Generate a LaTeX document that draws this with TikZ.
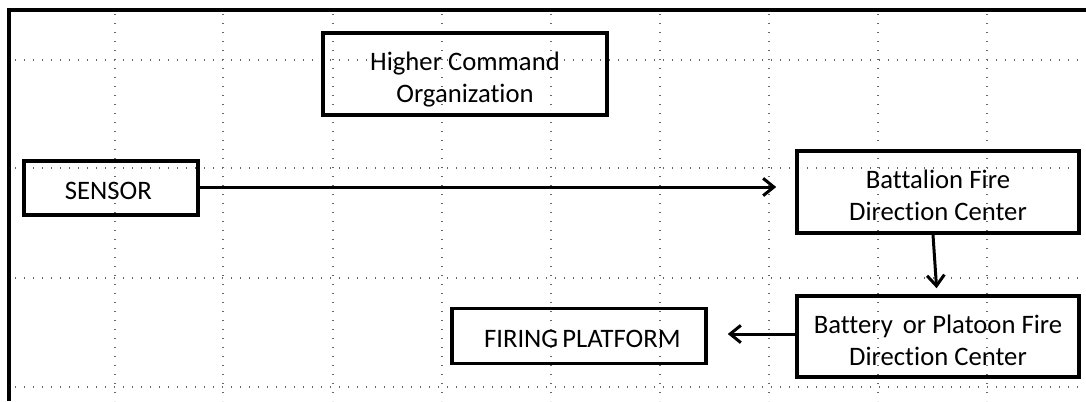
\documentclass[tikz,border=0pt]{standalone}
\usepackage{fontspec}
\setmainfont{Carlito}[Ligatures={NoCommon}]
\usetikzlibrary{arrows.meta}
\def\PX{0.75pt}
\newcommand\liftA[1]{\rule{0pt}{#1}}
\begin{document}
\begin{tikzpicture}[x=0.75pt,y=-0.75pt,
  gridline/.style={draw=black!60,line width=1.2*\PX,dash pattern=on 1.2*\PX off 7.8*\PX},
  box/.style={draw=black,line width=3.6*\PX,rectangle,align=center,inner sep=0pt,
    font=\fontsize{20}{24}\selectfont,text=black},
  conn/.style={draw=black,line width=3*\PX,-{Straight Barb[length=8pt,width=13pt,line width=3*\PX]}}]
\useasboundingbox (0,0) rectangle (1086,401);
% grid
\foreach \x in {115,223,333,442,551,660,769,878,987}
  \draw[gridline] (\x,14) -- (\x,401);
\foreach \y in {60,168,278,387}
  \draw[gridline] (15,\y) -- (1086,\y);
% frame
\draw[line width=4*\PX] (8.5,401) -- (8.5,9.5) -- (1086,9.5);
% nodes
\node[box,minimum width=284*\PX,minimum height=82*\PX] (hco) at (465,74) {\liftA{22pt}Higher Command\\Organization};
\node[box,minimum width=174*\PX,minimum height=54*\PX] (sen) at (111,188) {\liftA{18pt}SENSOR\hspace*{4pt}};
\node[box,minimum width=282*\PX,minimum height=82*\PX] (bfdc) at (938,192) {\liftA{19pt}Battalion\hspace{0.2pt} Fire\\Direction Center};
\node[box,minimum width=282*\PX,minimum height=81*\PX] (bpfdc) at (938,336.5) {\liftA{19pt}Battery\hspace{3pt} or Platoon Fire\\Direction Center};
\node[box,minimum width=254*\PX,minimum height=55*\PX] (fp) at (579,336) {\liftA{18pt}\hspace*{5pt}FIRING\hspace{-1.5pt} PLATFORM};
% connectors
\coordinate (a1) at ([yshift=1*\PX]sen.east);
\draw[conn,shorten >=19*\PX] (a1) -- (a1 -| bfdc.west);
\draw[conn,shorten >=6*\PX] ([xshift=-5*\PX]bfdc.south) -- ([xshift=-1*\PX]bpfdc.north);
\coordinate (a3) at ([yshift=2.5*\PX]bpfdc.west);
\draw[conn,shorten >=20*\PX] (a3) -- (a3 -| fp.east);
\end{tikzpicture}
\end{document}
